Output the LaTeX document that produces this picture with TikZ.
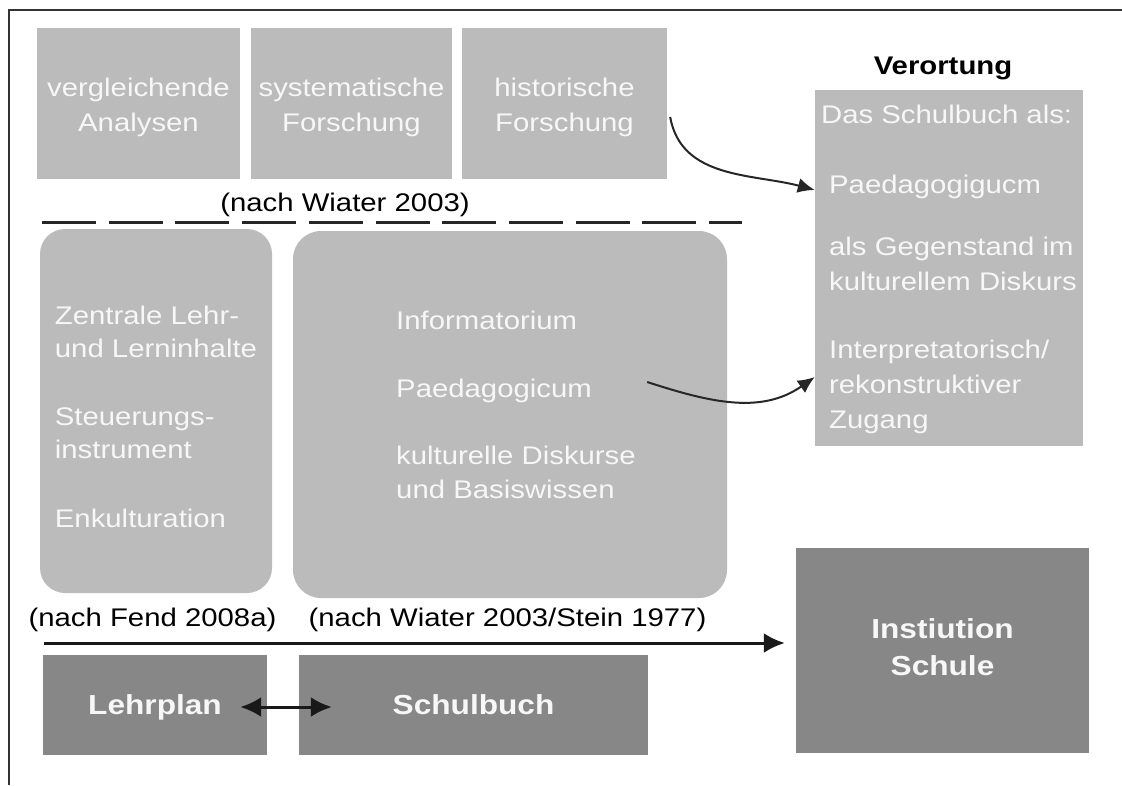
\documentclass[tikz,border=0pt]{standalone}
\usepackage{fontspec}
\setmainfont{Liberation Sans}[FakeStretch=1.15]
\usetikzlibrary{arrows.meta}
\definecolor{hell}{HTML}{BBBBBB}
\definecolor{dunkel}{HTML}{878787}
\tikzset{
  feld/.style={fill=hell,inner sep=0pt,text=white!97!black,align=center,
    font=\fontsize{25.5}{35}\selectfont},
  block/.style={fill=dunkel,inner sep=0pt,text=white!97!black,align=center,
    font=\bfseries\fontsize{27.5}{37}\selectfont,text depth=0pt},
  quelle/.style={inner sep=0pt,font=\fontsize{25.5}{35}\selectfont},
  pfeil/.style={line width=3pt,color=black!90},
  bogen/.style={-{Latex[length=17pt,width=15pt]},line width=2pt,color=black!85},
}
\begin{document}
\begin{tikzpicture}[x=1pt,y=-1pt]
  \useasboundingbox (0,0) rectangle (1122,785);
  \draw[line width=2.5pt,color=black!80] (1122,10) -- (9,10) -- (9,785);
  % obere Reihe
  \foreach \n/\x/\w/\t in {vergl/138.5/203/vergleichende\\Analysen,
      syst/351.5/201/systematische\\Forschung,
      hist/564.5/205/historische\\Forschung}
    \node[feld,minimum width=\w,minimum height=151] (\n) at (\x,103.5) {\rule{0pt}{26pt}\t};
  \node[quelle] (wiaterq) at (345,205) {(nach Wiater 2003)};
  \path (42,222) coordinate (trennA) (742,222) coordinate (trennB);
  \draw[line width=3pt,color=black!85,dash pattern=on 54pt off 12.7pt] (trennA) -- (trennB);
  % mittlere Reihe
  \node[feld,rounded corners=25pt,minimum width=232,minimum height=364,align=left,
    font=\fontsize{25.5}{33}\selectfont] (fend) at (156,411)
    {\rule{0pt}{31pt}Zentrale Lehr-\\und Lerninhalte\\[35pt]Steuerungs-\\instrument\\[36pt]Enkulturation};
  \node[feld,rounded corners=28pt,minimum width=434,minimum height=367,align=left,
    font=\fontsize{25.5}{34}\selectfont,text depth=20pt] (wiater) at (510,414.5)
    {\hspace*{12pt}Informatorium\\[34pt]\hspace*{12pt}Paedagogicum\\[33pt]
     \hspace*{12pt}kulturelle Diskurse\\\hspace*{12pt}und Basiswissen};
  \node[quelle] (fendq) at (152.5,620) {(nach Fend 2008a)};
  \node[quelle] (steinq) at (507.5,620) {(nach Wiater 2003/Stein 1977)};
  % Verortung
  \node[quelle,font=\bfseries\fontsize{25.5}{30}\selectfont] (verortung) at (943,68) {Verortung};
  \node[feld,minimum width=268,minimum height=356,align=left] (verort) at (949,268)
    {\rule{0pt}{21pt}Das Schulbuch als:\\[35pt]\hspace*{8pt}Paedagogigucm\\[27pt]\hspace*{8pt}als Gegenstand im\\
     \hspace*{8pt}kulturellem Diskurs\\[33pt]\hspace*{8pt}Interpretatorisch/\\
     \hspace*{8pt}rekonstruktiver\\\hspace*{8pt}Zugang};
  % untere Reihe
  \node[block,minimum width=224,minimum height=100] (lehrplan) at (155,705) {Lehrplan};
  \node[block,minimum width=349,minimum height=100] (schulbuch) at (473.5,705) {Schulbuch};
  \node[block,minimum width=293,minimum height=205,text depth=7pt] (inst) at (942.5,650.5) {Instiution\\Schule};
  \coordinate (zeit) at (44,643);
  \draw[pfeil,-{Latex[length=21pt,width=20pt]},shorten >=11pt] (zeit) -- (zeit -| inst.west);
  \draw[pfeil,{Latex[length=21pt,width=20pt]}-{Latex[length=21pt,width=20pt]}]
    ([xshift=-27pt,yshift=-2pt]lehrplan.east) -- ([xshift=33pt,yshift=-2pt]schulbuch.west);
  % Boegen
  \draw[bogen] ([xshift=3pt,yshift=-13.5pt]hist.east) to[out=-80,in=165] ([yshift=78pt]verort.west);
  \draw[bogen] ([xshift=-80pt,yshift=32.5pt]wiater.east) to[out=-18,in=-145] ([yshift=-109pt]verort.west);
\end{tikzpicture}
\end{document}
